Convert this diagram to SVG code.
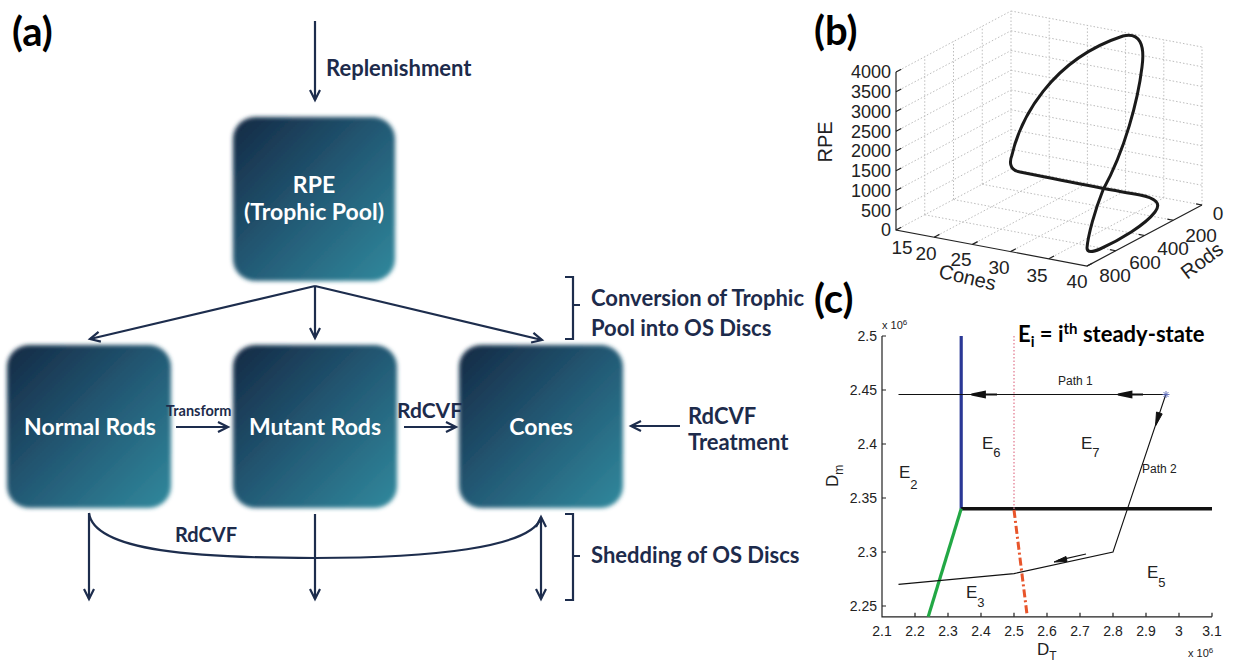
<svg xmlns="http://www.w3.org/2000/svg" width="1234" height="662" viewBox="0 0 1234 662">
<style>
.lbl{font-family:Lato,"Open Sans","Liberation Sans",sans-serif;font-weight:bold;fill:#1d2b4b}
.nt{font-family:Lato,"Open Sans","Liberation Sans",sans-serif;font-weight:bold;fill:#ffffff;font-size:23px;text-anchor:middle}
.pl{font-family:Lato,"Open Sans","Liberation Sans",sans-serif;font-weight:bold;fill:#000;font-size:40px}
.con{fill:none;stroke:#1d2d4d;stroke-width:2.2}
.ax{font-family:"Liberation Sans",Arial,sans-serif;fill:#222}
.grid{fill:none;stroke:#bdbdbd;stroke-width:1;stroke-dasharray:1.5 2}
.axl{fill:none;stroke:#222;stroke-width:1.2}
</style>
<defs>
<linearGradient id="g" x1="0" y1="0" x2="1" y2="1">
<stop offset="0" stop-color="#142944"/>
<stop offset="0.5" stop-color="#235a75"/>
<stop offset="1" stop-color="#31899d"/>
</linearGradient>
<filter id="soft" x="-10%" y="-10%" width="120%" height="120%"><feGaussianBlur stdDeviation="2"/></filter>
<marker id="ah" markerWidth="14" markerHeight="14" refX="11" refY="6" orient="auto-start-reverse" markerUnits="userSpaceOnUse"><path d="M1,1 L11,6 L1,11" fill="none" stroke="#1d2d4d" stroke-width="2.2"/></marker>
</defs>
<rect width="1234" height="662" fill="#ffffff"/>

<!-- Panel (a) -->
<text class="pl" x="12" y="46">(a)</text>

<g id="node-rpe">
<rect x="233" y="117" width="162" height="164" rx="22" fill="url(#g)" filter="url(#soft)"/>
<text class="nt" x="314" y="193">RPE</text>
<text class="nt" x="314" y="220">(Trophic Pool)</text>
</g>
<g id="node-normal-rods">
<rect x="7" y="345" width="164" height="163" rx="22" fill="url(#g)" filter="url(#soft)"/>
<text class="nt" x="90" y="435">Normal Rods</text>
</g>
<g id="node-mutant-rods">
<rect x="233" y="345" width="164" height="163" rx="22" fill="url(#g)" filter="url(#soft)"/>
<text class="nt" x="315" y="435">Mutant Rods</text>
</g>
<g id="node-cones">
<rect x="459" y="345" width="164" height="163" rx="22" fill="url(#g)" filter="url(#soft)"/>
<text class="nt" x="541" y="435">Cones</text>
</g>

<g id="connectors">
<path class="con" d="M315,21 V100" marker-end="url(#ah)"/>
<path class="con" d="M315,286 L90,339" marker-end="url(#ah)"/>
<path class="con" d="M315,286 V338" marker-end="url(#ah)"/>
<path class="con" d="M315,286 L542,340" marker-end="url(#ah)"/>
<path class="con" d="M176,427 H228" marker-end="url(#ah)"/>
<path class="con" d="M404,427 H456" marker-end="url(#ah)"/>
<path class="con" d="M680,426 H631" marker-end="url(#ah)"/>
<path class="con" d="M89,513 V599" marker-end="url(#ah)"/>
<path class="con" d="M315,514 V599" marker-end="url(#ah)"/>
<path class="con" d="M541,599 V517" marker-start="url(#ah)" marker-end="url(#ah)"/>
<path class="con" d="M89,513 C94,552 200,558 315,558 C430,558 530,548 541,518"/>
<path class="con" d="M565,277 H573 V339 H565 M573,305 H580"/>
<path class="con" d="M565,514 H573 V600 H565 M573,556 H580"/>
</g>

<text class="lbl" x="326" y="76" font-size="22">Replenishment</text>
<text class="lbl" x="591" y="306" font-size="22">Conversion of Trophic</text>
<text class="lbl" x="591" y="336" font-size="22">Pool into OS Discs</text>
<text class="lbl" x="688" y="424" font-size="22">RdCVF</text>
<text class="lbl" x="688" y="450" font-size="22">Treatment</text>
<text class="lbl" x="591" y="563" font-size="22">Shedding of OS Discs</text>
<text class="lbl" x="175" y="542" font-size="20">RdCVF</text>
<text class="lbl" x="397" y="418" font-size="21">RdCVF</text>
<text class="lbl" x="166" y="416" font-size="14.5">Transform</text>

<!-- Panel (b) -->
<text class="pl" x="814" y="45">(b)</text>
<g id="grid-b">
<path class="grid" d="M896,210.25 L1011,149.25 M896,190.5 L1011,129.5 M896,170.75 L1011,109.75 M896,151 L1011,90 M896,131.25 L1011,70.25 M896,111.5 L1011,50.5 M896,91.75 L1011,30.75 M896,72 L1011,11"/>
<path class="grid" d="M924.75,214.75 V56.75 M953.5,199.5 V41.5 M982.25,184.25 V26.25 M1011,169 V11"/>
<path class="grid" d="M1011,169 L1202,205 M1011,149.25 L1202,185.25 M1011,129.5 L1202,165.5 M1011,109.75 L1202,145.75 M1011,90 L1202,126 M1011,70.25 L1202,106.25 M1011,50.5 L1202,86.5 M1011,30.75 L1202,66.75 M1011,11 L1202,47"/>
<path class="grid" d="M1049.2,176.2 V18.2 M1087.4,183.4 V25.4 M1125.6,190.6 V32.6 M1163.8,197.8 V39.8 M1202,205 V47"/>
<path class="grid" d="M896,230 L1011,169 M934.2,237.2 L1049.2,176.2 M972.4,244.4 L1087.4,183.4 M1010.6,251.6 L1125.6,190.6 M1048.8,258.8 L1163.8,197.8"/>
<path class="grid" d="M924.75,214.75 L1115.75,250.75 M953.5,199.5 L1144.5,235.5 M982.25,184.25 L1173.25,220.25"/>
</g>
<g id="axes-b">
<path class="axl" d="M896,72 V230 L1087,266 L1202,205"/>
<path class="axl" d="M896,230 l5.3,-2.8 M896,210.25 l5.3,-2.8 M896,190.5 l5.3,-2.8 M896,170.75 l5.3,-2.8 M896,151 l5.3,-2.8 M896,131.25 l5.3,-2.8 M896,111.5 l5.3,-2.8 M896,91.75 l5.3,-2.8 M896,72 l5.3,-2.8"/>
<path class="axl" d="M934.2,237.2 l5.3,-2.8 M972.4,244.4 l5.3,-2.8 M1010.6,251.6 l5.3,-2.8 M1048.8,258.8 l5.3,-2.8 M1087,266 l5.3,-2.8"/>
<path class="axl" d="M1115.75,250.75 l-5.9,-1.1 M1144.5,235.5 l-5.9,-1.1 M1173.25,220.25 l-5.9,-1.1 M1202,205 l-5.9,-1.1"/>
</g>
<g class="ax" font-size="18" text-anchor="end">
<text x="891" y="236">0</text>
<text x="891" y="216.5">500</text>
<text x="891" y="196.5">1000</text>
<text x="891" y="177">1500</text>
<text x="891" y="157">2000</text>
<text x="891" y="137.5">2500</text>
<text x="891" y="117.5">3000</text>
<text x="891" y="98">3500</text>
<text x="891" y="78">4000</text>
</g>
<g class="ax" font-size="19" text-anchor="middle">
<text x="902" y="254">15</text>
<text x="926" y="260">20</text>
<text x="961" y="266">25</text>
<text x="999" y="274">30</text>
<text x="1037" y="282">35</text>
<text x="1077" y="288">40</text>
<text x="1218" y="220">0</text>
<text x="1201" y="242">200</text>
<text x="1173" y="255">400</text>
<text x="1145" y="269">600</text>
<text x="1115" y="282">800</text>
</g>
<text class="ax" font-size="20" text-anchor="middle" transform="translate(832,142) rotate(-90)">RPE</text>
<text class="ax" font-size="20" text-anchor="middle" transform="translate(966,284) rotate(13)">Cones</text>
<text class="ax" font-size="20" text-anchor="middle" transform="translate(1206,266) rotate(-37)">Rods</text>
<path d="M1123,36 C1140,32 1145,45 1142,67 C1138,100 1125,150 1103,190 C1095,210 1088,235 1087,248 C1087,253 1093,252 1100,249 C1120,240 1145,225 1155,212 C1162,203 1155,198 1140,195 C1110,190 1060,180 1020,172 C1008,170 1010,160 1012,155 C1020,120 1050,60 1123,36 Z" fill="none" stroke="#1a1a1a" stroke-width="3" stroke-linejoin="round"/>

<!-- Panel (c) -->
<text class="pl" x="814" y="313">(c)</text>
<text class="lbl" x="1018" y="342" font-size="22" style="fill:#000">E<tspan font-size="15" dy="5">i</tspan><tspan dy="-5"> = i</tspan><tspan font-size="15" dy="-8">th</tspan><tspan dy="8"> steady-state</tspan></text>
<g id="axes-c">
<path class="axl" d="M882,336 V616.8 H1212"/>
<path class="axl" d="M915,616.8 v-4 M948,616.8 v-4 M981,616.8 v-4 M1014,616.8 v-4 M1047,616.8 v-4 M1080,616.8 v-4 M1113,616.8 v-4 M1146,616.8 v-4 M1179,616.8 v-4 M1212,616.8 v-4"/>
<path class="axl" d="M882,606 h4 M882,552 h4 M882,498 h4 M882,444 h4 M882,390 h4 M882,336 h4"/>
</g>
<g class="ax" font-size="14" text-anchor="middle" fill="#333">
<text x="882" y="636">2.1</text>
<text x="915" y="636">2.2</text>
<text x="948" y="636">2.3</text>
<text x="981" y="636">2.4</text>
<text x="1014" y="636">2.5</text>
<text x="1047" y="636">2.6</text>
<text x="1080" y="636">2.7</text>
<text x="1113" y="636">2.8</text>
<text x="1146" y="636">2.9</text>
<text x="1179" y="636">3</text>
<text x="1212" y="636">3.1</text>
</g>
<g class="ax" font-size="14" text-anchor="end" fill="#333">
<text x="877" y="611">2.25</text>
<text x="877" y="557">2.3</text>
<text x="877" y="503">2.35</text>
<text x="877" y="449">2.4</text>
<text x="877" y="395">2.45</text>
<text x="877" y="341">2.5</text>
</g>
<text class="ax" font-size="11" x="882" y="329" fill="#333">x 10<tspan font-size="8" dy="-4">6</tspan></text>
<text class="ax" font-size="11" x="1188" y="657" fill="#333">x 10<tspan font-size="8" dy="-4">6</tspan></text>
<text class="ax" font-size="17" x="1037" y="655">D<tspan font-size="12" dy="5">T</tspan></text>
<text class="ax" font-size="17" transform="translate(838,487) rotate(-90)">D<tspan font-size="12" dy="5">m</tspan></text>

<g id="regions-c">
<path d="M961.2,336 V508.8" stroke="#2a3896" stroke-width="3.2" fill="none"/>
<path d="M961.2,508.8 H1212" stroke="#111" stroke-width="3.6" fill="none"/>
<path d="M961.2,508.8 L928.2,616.8" stroke="#22a845" stroke-width="3.2" fill="none"/>
<path d="M1014,336 V508.8" stroke="#e890a2" stroke-width="1.5" stroke-dasharray="1.5 2" fill="none"/>
<path d="M1014,510 L1027.2,616" stroke="#e8552b" stroke-width="3" stroke-dasharray="8 3 2 3" fill="none"/>
</g>
<g id="paths-c">
<path d="M898.5,394.5 H1165.8" stroke="#111" stroke-width="1.1" fill="none"/>
<path d="M1165.8,394.5 L1113,552 L1014,573.6 L898.5,584.4" stroke="#111" stroke-width="1.1" fill="none"/>
<path d="M971.5,394.5 L985,391.5 L985,397.5 Z M985,394.5 H997" stroke="#111" stroke-width="1.8" fill="#111"/>
<path d="M1118,394.5 L1131.5,391.5 L1131.5,397.5 Z M1131.5,394.5 H1143" stroke="#111" stroke-width="1.8" fill="#111"/>
<path d="M1155.5,426 L1162.2,413.9 L1156.5,412 Z" stroke="#111" stroke-width="1" fill="#111"/>
<path d="M1086,554 L1058,560.3" stroke="#111" stroke-width="1.2" fill="none"/>
<path d="M1054,562 L1066,556.5 L1067,561.5 Z" stroke="#111" stroke-width="1" fill="#111"/>
<path d="M1162.5,394.5 h7 M1166,391 v7 M1163.5,392 l5,5 M1168.5,392 l-5,5" stroke="#5a6ab8" stroke-width="0.9"/>
</g>
<g class="ax" fill="#222">
<text x="1058" y="385" font-size="12">Path 1</text>
<text x="1142" y="473" font-size="12">Path 2</text>
<text x="982" y="449" font-size="17">E<tspan font-size="13" dy="8">6</tspan></text>
<text x="1081" y="449" font-size="17">E<tspan font-size="13" dy="8">7</tspan></text>
<text x="899" y="478" font-size="17">E<tspan font-size="13" dy="11">2</tspan></text>
<text x="966" y="598" font-size="17">E<tspan font-size="13" dy="9">3</tspan></text>
<text x="1147" y="578" font-size="17">E<tspan font-size="13" dy="9">5</tspan></text>
</g>
</svg>
